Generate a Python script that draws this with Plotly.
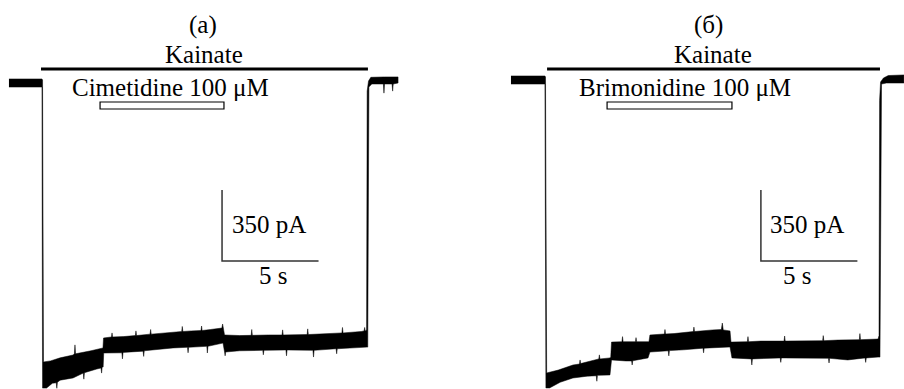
import plotly.graph_objects as go

W, H = 904, 389
PX_PER_S = 19.3          # horizontal scale of the recording
PX_PER_PA = 71.0 / 350   # vertical scale of the recording

# ---------------- Panel (a): Cimetidine ----------------
# upper envelope of the noisy current trace (time s, current pA)
a_up_t = [0.05, 1.76, 1.79, 1.84,
          2.2, 2.7, 3.37, 3.44, 3.47, 3.50,
          4.3, 4.87, 4.92, 4.95,
          5.36, 5.39, 5.42,
          6.0, 6.6, 6.63, 6.66,
          7.36, 7.39, 7.42,
          8.55, 9.0, 9.03, 9.06,
          9.5, 10.0, 10.03, 10.06,
          10.5, 11.08, 11.12, 11.16, 11.19, 11.22,
          12.0, 12.6, 12.63, 12.66,
          13.5, 14.2, 14.23, 14.26,
          15.5, 15.53, 15.56,
          16.5, 17.3, 17.33, 17.36,
          18.3, 18.45, 18.48, 18.51, 18.58,
          18.61, 18.68, 18.8, 19.5, 20.21]
a_up_i = [20, 20, 15, -1375,
          -1370, -1355, -1341, -1335, -1291, -1335,
          -1320, -1306, -1306, -1257,
          -1252, -1232, -1252,
          -1250, -1245, -1222, -1245,
          -1238, -1215, -1238,
          -1228, -1225, -1200, -1225,
          -1222, -1220, -1198, -1220,
          -1215, -1208, -1188, -1208, -1208, -1242,
          -1245, -1244, -1215, -1244,
          -1242, -1242, -1217, -1242,
          -1240, -1212, -1240,
          -1236, -1232, -1205, -1232,
          -1225, -1222, -1205, -1222, -1218,
          -40, 10, 28, 30, 30]
# lower envelope
a_lo_t = [0.05, 1.76, 1.79, 2.0, 2.3, 2.5, 2.53, 2.56, 2.7, 3.37,
          3.9, 3.93, 3.96, 4.6, 4.82, 4.85, 4.88, 4.93, 4.96,
          5.9, 5.93, 5.96, 7.0, 7.03, 7.06, 8.55, 9.3, 9.33, 9.36,
          10.3, 10.33, 10.36, 11.14, 11.22, 11.25, 11.28, 12.0,
          13.2, 13.23, 13.26, 14.4, 14.43, 14.46, 15.8, 15.83, 15.86,
          17.0, 17.03, 17.06, 18.60,
          18.64, 18.70, 18.85, 19.45, 19.48, 19.51, 19.9, 19.93, 19.96, 20.21]
a_lo_i = [-20, -20, -1504, -1504, -1480, -1478, -1505, -1475, -1465, -1454,
          -1430, -1460, -1428, -1410, -1405, -1430, -1400, -1400, -1331,
          -1330, -1360, -1328, -1322, -1348, -1320, -1306, -1303, -1330, -1303,
          -1298, -1331, -1298, -1282, -1326, -1345, -1326, -1320,
          -1318, -1340, -1318, -1316, -1345, -1316, -1318, -1351, -1318,
          -1310, -1335, -1310, -1302,
          -1302, -20, -5, -5, -50, -5, -5, -40, -5, 0]
kainate_a = (1.71, 18.65)
cimetidine = (4.77, 11.19)
scale_a_t0, scale_a_i0 = 11.09, -877

# ---------------- Panel (б): Brimonidine ----------------
b_up_t = [0.05, 1.81, 1.84, 1.90, 2.5, 3.26, 3.6, 3.63, 3.66, 4.0,
          4.6, 4.63, 4.66, 5.18, 5.22, 5.26,
          5.8, 5.83, 5.86, 6.5, 6.53, 6.56, 7.15, 7.20, 7.25,
          8.0, 8.03, 8.06, 8.5, 9.5, 9.53, 9.56, 10.5, 10.95, 11.0, 11.05, 11.40, 11.45,
          12.3, 12.33, 12.36, 13.0, 14.2, 14.23, 14.26, 15.39, 16.2, 16.23, 16.26,
          17.0, 18.1, 18.13, 18.16, 19.07, 19.12,
          19.15, 19.20, 19.35, 19.6, 20.41]
b_up_i = [20, 20, 15, -1444, -1430, -1405, -1400, -1380, -1398, -1390,
          -1375, -1355, -1375, -1370, -1365, -1292,
          -1290, -1265, -1290, -1290, -1270, -1290, -1292, -1290, -1257,
          -1252, -1230, -1252, -1250, -1240, -1218, -1240, -1232, -1230, -1198, -1232, -1237, -1292,
          -1290, -1265, -1290, -1287, -1287, -1262, -1287, -1287, -1285, -1260, -1285,
          -1282, -1280, -1250, -1280, -1277, -1260,
          -100, -10, 10, 22, 25]
b_lo_t = [0.05, 1.81, 1.86, 2.05, 2.6, 3.26, 4.0, 4.47, 4.5, 4.53, 5.18, 5.26,
          6.0, 6.3, 6.33, 6.36, 7.15, 7.25, 8.2, 8.23, 8.26, 9.0, 10.0, 10.03, 10.06,
          11.40, 11.50, 12.5, 12.53, 12.56, 14.0, 14.03, 14.06, 15.39,
          16.5, 16.53, 16.56, 17.5, 18.4, 18.43, 18.46, 19.07, 19.17,
          19.25, 19.5, 20.41]
b_lo_i = [-20, -20, -1518, -1518, -1490, -1469, -1460, -1458, -1485, -1456, -1454, -1380,
          -1385, -1385, -1405, -1384, -1370, -1341, -1335, -1360, -1334, -1330, -1322, -1345, -1322,
          -1316, -1370, -1375, -1405, -1375, -1370, -1392, -1370, -1370,
          -1372, -1395, -1372, -1380, -1370, -1392, -1370, -1366, -1366,
          -20, -15, -15]
kainate_b = (1.92, 19.17)
brimonidine = (5.03, 11.50)
scale_b_t0, scale_b_i0 = 13.0, -892

SCALE_T = 5      # s
SCALE_I = 350    # pA


def band(up_t, up_i, lo_t, lo_i):
    return up_t + lo_t[::-1], up_i + lo_i[::-1]


fig = go.Figure()

for (ut, ui, lt, li, xa, ya) in [(a_up_t, a_up_i, a_lo_t, a_lo_i, "x", "y"),
                                 (b_up_t, b_up_i, b_lo_t, b_lo_i, "x2", "y2")]:
    bx, by = band(ut, ui, lt, li)
    fig.add_trace(go.Scatter(x=bx, y=by, mode="lines", fill="toself",
                             fillcolor="black", line=dict(color="black", width=0.5),
                             xaxis=xa, yaxis=ya, hoverinfo="skip"))

for (t0, i0, xa, ya) in [(scale_a_t0, scale_a_i0, "x", "y"),
                         (scale_b_t0, scale_b_i0, "x2", "y2")]:
    fig.add_trace(go.Scatter(x=[t0, t0, t0 + SCALE_T], y=[i0 + SCALE_I, i0, i0],
                             mode="lines", line=dict(color="#333333", width=1.5),
                             xaxis=xa, yaxis=ya, hoverinfo="skip"))


def py(p):
    return 1 - p / H


def px(p):
    return p / W


shapes = []
for (k, d, xr) in [(kainate_a, cimetidine, "x"), (kainate_b, brimonidine, "x2")]:
    shapes.append(dict(type="line", xref=xr, yref="paper", x0=k[0], x1=k[1],
                       y0=py(69), y1=py(69), line=dict(color="black", width=3)))
    shapes.append(dict(type="rect", xref=xr, yref="paper", x0=d[0], x1=d[1],
                       y0=py(109), y1=py(102), line=dict(color="black", width=1.2),
                       fillcolor="white"))

font = dict(family="Liberation Serif, Times New Roman, serif", size=25, color="black")
ann = []
for (text, x, y) in [("(a)", 203, 25), ("Kainate", 204, 55), ("Cimetidine 100 μM", 170, 87),
                     ("350 pA", 269, 224), ("5 s", 273, 275),
                     ("(б)", 708, 25), ("Kainate", 713, 55), ("Brimonidine 100 μM", 685, 87),
                     ("350 pA", 807, 224), ("5 s", 797, 275)]:
    ann.append(dict(text=text, x=px(x), y=py(y), xref="paper", yref="paper",
                    showarrow=False, xanchor="center", yanchor="middle", font=font))

ax_common = dict(visible=False, showgrid=False, zeroline=False, fixedrange=True)
a_origin, b_origin = 8, 510
base_a, base_b = 83, 80

fig.update_layout(
    width=W, height=H, margin=dict(l=0, r=0, t=0, b=0),
    paper_bgcolor="white", plot_bgcolor="white", showlegend=False,
    xaxis=dict(domain=[0, 0.5], range=[-a_origin / PX_PER_S, (452 - a_origin) / PX_PER_S], **ax_common),
    xaxis2=dict(domain=[0.5, 1], range=[(452 - b_origin) / PX_PER_S, (904 - b_origin) / PX_PER_S],
                anchor="y2", **ax_common),
    yaxis=dict(domain=[0, 1], range=[-(H - base_a) / PX_PER_PA, base_a / PX_PER_PA], **ax_common),
    yaxis2=dict(domain=[0, 1], range=[-(H - base_b) / PX_PER_PA, base_b / PX_PER_PA],
                anchor="x2", **ax_common),
    shapes=shapes, annotations=ann, hovermode=False,
)

fig.write_html("out.html", config={"displayModeBar": False},
               post_script="document.body.style.margin='0';document.body.style.padding='0';")
